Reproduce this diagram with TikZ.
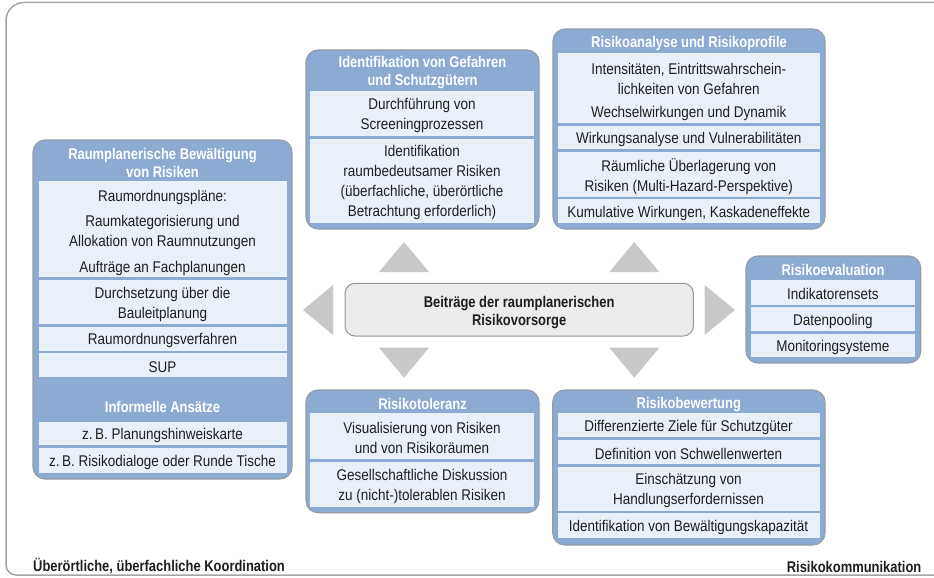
\documentclass[tikz,border=0pt]{standalone}
\usepackage{fontspec}
\setmainfont{Liberation Sans}[FakeStretch=0.87, BoldFeatures={FakeStretch=0.835}]
\usetikzlibrary{fit}

\definecolor{panelblue}{RGB}{141,170,211}
\definecolor{panelline}{RGB}{150,156,166}
\definecolor{rowfill}{RGB}{234,240,249}
\definecolor{ink}{RGB}{30,30,30}
\definecolor{arrowgray}{RGB}{200,200,200}
\definecolor{corefill}{RGB}{236,236,236}
\definecolor{coreline}{RGB}{150,150,150}
\definecolor{framegray}{RGB}{165,165,165}

\newcommand\bodyfont{\fontsize{15.5}{20}\selectfont}
\newcommand\hdrfont{\fontsize{15.5}{18.3}\selectfont\bfseries}

\tikzset{
  panel/.style={draw=panelline, line width=1.1pt, fill=panelblue,
    rounded corners=12pt, inner sep=0pt},
  rowbox/.style={fill=rowfill, draw=none, inner sep=0pt},
  item/.style={text=ink, font=\bodyfont, align=center, inner sep=0pt, yshift=-2pt},
  hdr/.style={text=white, font=\hdrfont, align=center, inner sep=0pt, yshift=-1.5pt},
  core/.style={draw=coreline, line width=1pt, fill=corefill,
    rounded corners=10pt, inner sep=0pt},
  pointer/.style={fill=arrowgray, draw=none},
  frame/.style={draw=framegray, line width=1.5pt},
  foot/.style={text=ink, font=\hdrfont, inner sep=0pt},
}

\begin{document}
\begin{tikzpicture}[x=1pt, y=-1pt]
\useasboundingbox (0,0) rectangle (934,578);

% outer frame, open to the right
\draw[frame] (934,2.5) -- (24,2.5) .. controls (14.1,2.5) and (6,10.6) .. (6,20.5)
  -- (6,565) .. controls (6,570.5) and (10.5,575) .. (16,575) -- (934,575);

% footer labels
\node[foot, anchor=west] (fl) at (33,566.5) {Überörtliche, überfachliche Koordination};
\node[foot, anchor=east] (fr) at (921.5,566.5) {Risikokommunikation};

% ---- Identifikation von Gefahren und Schutzgütern
\node[panel, fit={(306,50) (539,229)}] (idf) {};
\node[hdr] (idfh) at (422.5,70.8) {Identifikation von Gefahren\\und Schutzgütern};
\node[rowbox, fit={(310,90.7) (534,136)}] (idf1) {};
\node[item] at (idf1) {Durchführung von\\Screeningprozessen};
\node[rowbox, fit={(310,138.7) (534,223)}] (idf2) {};
\node[item] at (idf2)
  {Identifikation\\raumbedeutsamer Risiken\\(überfachliche, überörtliche\\Betrachtung erforderlich)};

% ---- Risikoanalyse und Risikoprofile
\node[panel, fit={(553,29) (825,229)}] (ana) {};
\node[hdr] (anah) at (689,41.7) {Risikoanalyse und Risikoprofile};
\node[rowbox, fit={(558,52.7) (819.5,123.3)}] (ana1) {};
\node[item] (ana1a) at (688.7,76.7) {Intensitäten, Eintrittswahrschein-\\lichkeiten von Gefahren};
\node[item] (ana1b) at (688.7,111.7) {Wechselwirkungen und Dynamik};
\node[rowbox, fit={(558,126) (819.5,149.3)}] (ana2) {};
\node[item] at (ana2) {Wirkungsanalyse und Vulnerabilitäten};
\node[rowbox, fit={(558,152) (819.5,196.7)}] (ana3) {};
\node[item] at (ana3) {Räumliche Überlagerung von\\Risiken (Multi-Hazard-Perspektive)};
\node[rowbox, fit={(558,199.3) (819.5,223.3)}] (ana4) {};
\node[item] at (ana4) {Kumulative Wirkungen, Kaskadeneffekte};

% ---- Raumplanerische Bewältigung von Risiken
\node[panel, fit={(33,140) (292,479)}] (rpl) {};
\node[hdr] (rplh) at (162.5,161.7) {Raumplanerische Bewältigung\\von Risiken};
\node[rowbox, fit={(38.5,180.7) (286.5,277.3)}] (rpl1) {};
\node[item] (rpl1a) at (162.5,195) {Raumordnungspläne:};
\node[item] (rpl1b) at (162.5,230.3) {Raumkategorisierung und\\Allokation von Raumnutzungen};
\node[item] (rpl1c) at (162.5,266) {Aufträge an Fachplanungen};
\node[rowbox, fit={(38.5,280) (286.5,324)}] (rpl2) {};
\node[item] at (rpl2) {Durchsetzung über die\\Bauleitplanung};
\node[rowbox, fit={(38.5,326.7) (286.5,350.7)}] (rpl3) {};
\node[item] at (rpl3) {Raumordnungsverfahren};
\node[rowbox, fit={(38.5,353.3) (286.5,376.7)}] (rpl4) {};
\node[item] at (rpl4) {SUP};
\node[hdr] (rplinf) at (162.5,405) {Informelle Ansätze};
\node[rowbox, fit={(38.5,421.7) (286.5,445)}] (rpl5) {};
\node[item] at (rpl5) {z.\,B. Planungshinweiskarte};
\node[rowbox, fit={(38.5,447.7) (286.5,472.7)}] (rpl6) {};
\node[item] at (rpl6) {z.\,B. Risikodialoge oder Runde Tische};

% ---- Risikoevaluation
\node[panel, fit={(746,256) (920.7,363)}] (evl) {};
\node[hdr] (evlh) at (833,268.3) {Risikoevaluation};
\node[rowbox, fit={(750.7,280) (915,304.5)}] (evl1) {};
\node[item] at (evl1) {Indikatorensets};
\node[rowbox, fit={(750.7,307) (915,331)}] (evl2) {};
\node[item] at (evl2) {Datenpooling};
\node[rowbox, fit={(750.7,333.5) (915,357)}] (evl3) {};
\node[item] at (evl3) {Monitoringsysteme};

% ---- Risikotoleranz
\node[panel, fit={(306,390) (539,512.7)}] (tol) {};
\node[hdr] (tolh) at (422.5,402.7) {Risikotoleranz};
\node[rowbox, fit={(310,413.3) (534,459.3)}] (tol1) {};
\node[item] at (tol1) {Visualisierung von Risiken\\und von Risikoräumen};
\node[rowbox, fit={(310,462) (534,506.7)}] (tol2) {};
\node[item] at (tol2) {Gesellschaftliche Diskussion\\zu (nicht-)tolerablen Risiken};

% ---- Risikobewertung
\node[panel, fit={(552.7,390) (825,545)}] (bew) {};
\node[hdr] (bewh) at (688.8,402.7) {Risikobewertung};
\node[rowbox, fit={(557.5,413.3) (819.5,437.3)}] (bew1) {};
\node[item] at (bew1) {Differenzierte Ziele für Schutzgüter};
\node[rowbox, fit={(557.5,440) (819.5,464)}] (bew2) {};
\node[item] at (bew2) {Definition von Schwellenwerten};
\node[rowbox, fit={(557.5,466.7) (819.5,510.7)}] (bew3) {};
\node[item] at (bew3) {Einschätzung von\\Handlungserfordernissen};
\node[rowbox, fit={(557.5,513.3) (819.5,538.3)}] (bew4) {};
\node[item] at (bew4) {Identifikation von Bewältigungskapazität};

% ---- central node
\node[core, fit={(345,283.3) (693.3,336)}] (ctr) {};
\node[hdr, text=ink, yshift=-1.5pt] (ctrt) at (ctr) {Beiträge der raumplanerischen\\Risikovorsorge};

% ---- pointers from the centre towards the panels
\fill[pointer] (303,310) -- (333,285) -- (333,335) -- cycle;
\fill[pointer] (735,310) -- (704.5,285) -- (704.5,335) -- cycle;
\fill[pointer] (379,272) -- (429,272) -- (404,242) -- cycle;
\fill[pointer] (609.3,272) -- (659.3,272) -- (634.3,242) -- cycle;
\fill[pointer] (379,347.7) -- (429,347.7) -- (404,377.7) -- cycle;
\fill[pointer] (609.3,347.7) -- (659.3,347.7) -- (634.3,377.7) -- cycle;
\end{tikzpicture}
\end{document}
